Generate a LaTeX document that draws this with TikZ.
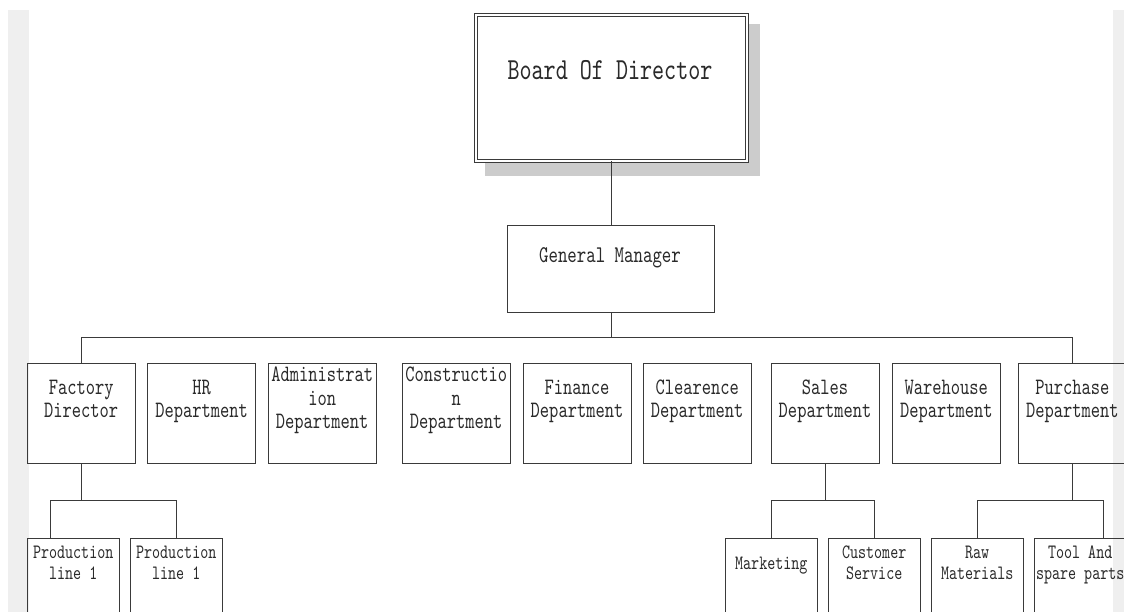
\documentclass[tikz,border=0pt]{standalone}
\usepackage{fontspec}
\setmonofont{lmmono10-regular.otf}[FakeStretch=0.75]
\definecolor{strip}{HTML}{EFEFEF}
\definecolor{ln}{HTML}{3A3A3A}
\definecolor{tx}{HTML}{2A2A2A}
\definecolor{shadowgray}{HTML}{CCCCCC}
\begin{document}
\begin{tikzpicture}[x=1pt,y=-1pt,
  box/.style={draw=ln, line width=0.9pt, inner sep=0pt},
  lvltwo/.style={box, minimum width=108pt, minimum height=100pt},
  lvlthree/.style={box, minimum width=92pt, minimum height=100pt},
  tbig/.style={font=\ttfamily\fontsize{30.6pt}{33pt}\selectfont, text=tx, inner sep=0pt, align=center},
  tgm/.style={font=\ttfamily\fontsize{24pt}{26pt}\selectfont, text=tx, inner sep=0pt, align=center},
  ttwo/.style={font=\ttfamily\fontsize{23.5pt}{23.4pt}\selectfont, text=tx, inner sep=0pt, align=center},
  tthree/.style={font=\ttfamily\fontsize{20.4pt}{21.5pt}\selectfont, text=tx, inner sep=0pt, align=center},
  wire/.style={draw=ln, line width=0.9pt}]
\useasboundingbox (0,0) rectangle (1124,612);
% side strips
\fill[strip] (8,10) rectangle (29,612);
\fill[strip] (1112.7,10) rectangle (1124,612);
% board with shadow
\fill[fill=shadowgray] (485,24) rectangle (760,176);
\node[draw=ln, double, double distance=2.4pt, line width=0.7pt, fill=white,
      minimum width=271pt, minimum height=146pt, inner sep=0pt]
      (bod) at (611.5,88) {};
\node[tbig] (tbod) at (610,72.7) {\strut Board Of Director\strut};
% general manager
\node[box, minimum width=206.6pt, minimum height=87.7pt] (gm) at (611,268.9) {};
\node[tgm] (tgm) at (610,257.5) {\strut General Manager\strut};
% level two
\node[lvltwo] (fd) at (81.2,413) {};
\node[lvltwo] (hr) at (201.7,413) {};
\node[lvltwo] (ad) at (322.2,413) {};
\node[lvltwo] (co) at (456.2,413) {};
\node[lvltwo] (fi) at (577,413) {};
\node[lvltwo] (cl) at (697.2,413) {};
\node[lvltwo] (sa) at (825,413) {};
\node[lvltwo] (wa) at (946.3,413) {};
\node[lvltwo] (pu) at (1072.3,413) {};
\node[ttwo] (tfd) at ([yshift=11.5pt]fd.center) {\strut Factory\\Director\strut};
\node[ttwo] (thr) at ([yshift=11.5pt]hr.center) {\strut HR\\Department\strut};
\node[ttwo] (tad) at ([yshift=12.5pt]ad.center) {\strut Administrat\\ion\\Department\strut};
\node[ttwo] (tco) at ([yshift=12.5pt]co.center) {\strut Constructio\\n\\Department\strut};
\node[ttwo] (tfi) at ([yshift=11.5pt]fi.center) {\strut Finance\\Department\strut};
\node[ttwo] (tcl) at ([yshift=11.5pt]cl.center) {\strut Clearence\\Department\strut};
\node[ttwo] (tsa) at ([yshift=11.5pt]sa.center) {\strut Sales\\Department\strut};
\node[ttwo] (twa) at ([yshift=11.5pt]wa.center) {\strut Warehouse\\Department\strut};
\node[ttwo] (tpu) at ([yshift=11.5pt]pu.center) {\strut Purchase\\Department\strut};
% level three
\node[lvlthree] (pa) at (73.2,588.3) {};
\node[lvlthree] (pb) at (176.2,588.3) {};
\node[lvlthree] (mk) at (771.3,588.3) {};
\node[lvlthree] (cs) at (874.2,588.3) {};
\node[lvlthree] (rm) at (977.2,588.3) {};
\node[lvlthree] (tl) at (1080.2,588.3) {};
\node[tthree] (tpa) at (73.2,564.8) {\strut Production\\line 1\strut};
\node[tthree] (tpb) at (176.2,564.8) {\strut Production\\line 1\strut};
\node[tthree] (tmk) at (771.3,565.5) {\strut Marketing\strut};
\node[tthree] (tcs) at (874.2,564.8) {\strut Customer\\Service\strut};
\node[tthree] (trm) at (977.2,564.8) {\strut Raw\\Materials\strut};
\node[tthree] (ttl) at (1080.2,564.8) {\strut Tool And\\spare parts\strut};
% connectors
\coordinate (busa) at (0,337);
\coordinate (busb) at (0,500.7);
\draw[wire] (bod.south -| gm.north) -- (gm.north);
\draw[wire] (gm.south) -- (gm.south |- busa);
\draw[wire] (fd.north) -- (fd.north |- busa) -- (pu.north |- busa) -- (pu.north);
\coordinate (pax) at (50.7,538.3);
\draw[wire] (fd.south) -- (fd.south |- busb);
\draw[wire] (pax) -- (pax |- busb) -- (pb.north |- busb) -- (pb.north);
\draw[wire] (sa.south) -- (sa.south |- busb);
\draw[wire] (mk.north) -- (mk.north |- busb) -- (cs.north |- busb) -- (cs.north);
\coordinate (tlx) at (1103.3,538.3);
\draw[wire] (pu.south) -- (pu.south |- busb);
\draw[wire] (rm.north) -- (rm.north |- busb) -- (tlx |- busb) -- (tlx);
\end{tikzpicture}
\end{document}
